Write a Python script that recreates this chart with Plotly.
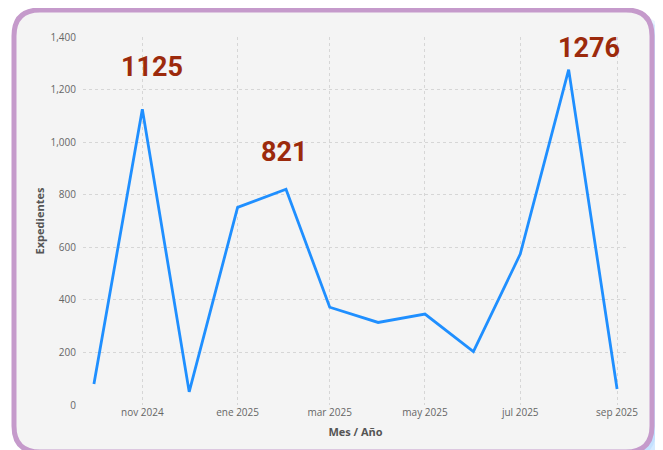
import plotly.graph_objects as go

months = ["2024-10-01", "2024-11-01", "2024-12-01", "2025-01-01", "2025-02-01", "2025-03-01",
          "2025-04-01", "2025-05-01", "2025-06-01", "2025-07-01", "2025-08-01", "2025-09-01"]
expedientes = [80, 1125, 50, 752, 821, 372, 314, 346, 203, 574, 1276, 61]

tick_vals = ["2024-11-01", "2025-01-01", "2025-03-01", "2025-05-01", "2025-07-01", "2025-09-01"]
tick_text = ["nov 2024", "ene 2025", "mar 2025", "may 2025", "jul 2025", "sep 2025"]

labels_idx = [1, 4, 10]
label_shift = [(10, 42), (-2, 37), (20, 22)]

# page body has an 8px default margin, so figure is sized to fit the window
W, H = 655, 442
L, R, T, B = 75, 35, 29, 45
pw, ph = W - L - R, H - T - B

def px(x):
    return (x - L) / pw

def py(y):
    return 1 - (y - T) / ph

def rounded(x0, y0, x1, y1, r):
    X0, X1 = px(x0), px(x1)
    Y0, Y1 = py(y0), py(y1)
    rx, ry = r / pw, r / ph
    return (f"M {X0+rx},{Y0} L {X1-rx},{Y0} Q {X1},{Y0} {X1},{Y0-ry} "
            f"L {X1},{Y1+ry} Q {X1},{Y1} {X1-rx},{Y1} L {X0+rx},{Y1} "
            f"Q {X0},{Y1} {X0},{Y1+ry} L {X0},{Y0-ry} Q {X0},{Y0} {X0+rx},{Y0} Z")

fig = go.Figure()
fig.add_trace(go.Scatter(x=months, y=expedientes, mode="lines",
                         line=dict(color="#1f8fff", width=2.8), hoverinfo="x+y"))

shapes = []
for op, grow in [(0.25, 12), (0.35, 8), (0.45, 4)]:
    shapes.append(dict(type="path", xref="paper", yref="paper", layer="below",
                       path=rounded(14, 8, 644 + grow, 446 + grow, 28),
                       fillcolor=f"rgba(175,215,255,{op})", line=dict(width=0)))
shapes.append(dict(type="path", xref="paper", yref="paper", layer="below",
                   path=rounded(6, 2, 644, 444, 26),
                   fillcolor="#f4f4f4", line=dict(color="#c59acb", width=5)))

annotations = []
for k, i in enumerate(labels_idx):
    dx, dy = label_shift[k]
    annotations.append(dict(x=months[i], y=expedientes[i], xref="x", yref="y",
                            text=f"<b>{expedientes[i]}</b>", showarrow=False,
                            xshift=dx, yshift=dy,
                            font=dict(family="Roboto", size=27, color="#9c2a0c")))

fig.update_layout(
    width=W, height=H,
    margin=dict(l=L, r=R, t=T, b=B, autoexpand=False),
    paper_bgcolor="white", plot_bgcolor="rgba(0,0,0,0)",
    showlegend=False,
    shapes=shapes,
    annotations=annotations,
    font=dict(family="Open Sans", color="#666666"),
    xaxis=dict(type="date", range=["2024-09-24", "2025-09-08"], automargin=False,
               tickvals=tick_vals, ticktext=tick_text,
               tickfont=dict(size=10, color="#666666"),
               showgrid=True, gridcolor="#d6d6d6", griddash="dot", gridwidth=1.3,
               zeroline=False, showline=False, ticks="",
               title=dict(text="<b>Mes / Año</b>", font=dict(size=11, color="#555555"), standoff=10)),
    yaxis=dict(range=[0, 1400], tickvals=[0, 200, 400, 600, 800, 1000, 1200, 1400], automargin=False,
               tickformat=",d", tickfont=dict(size=10, color="#666666"),
               showgrid=True, gridcolor="#d6d6d6", griddash="dot", gridwidth=1.3,
               zeroline=False, showline=False, ticks="", ticklabelstandoff=6,
               title=dict(text="<b>Expedientes</b>", font=dict(size=11, color="#555555"), standoff=3)),
)

fig.write_html("out.html")
